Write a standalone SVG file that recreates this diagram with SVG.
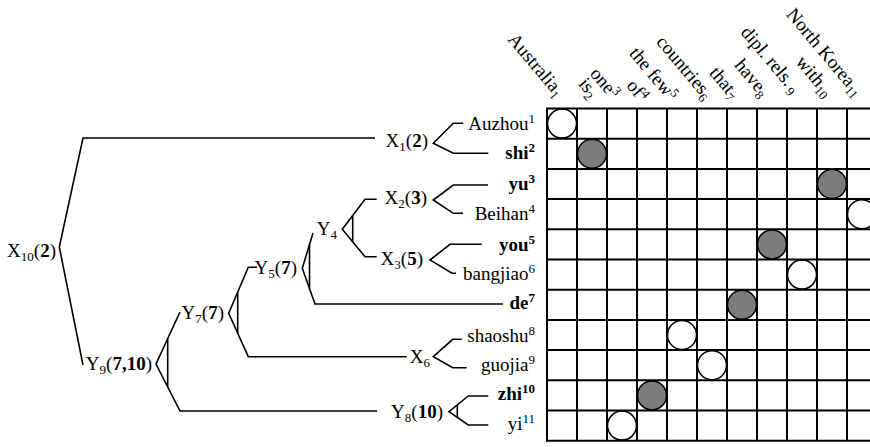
<svg xmlns="http://www.w3.org/2000/svg" width="870" height="447" viewBox="0 0 870 447" font-family="'Liberation Serif', 'DejaVu Serif', serif">
  <style>
    text { font-family: "Liberation Serif", "DejaVu Serif", serif; font-size: 19px; fill: #000; }
    .b { font-weight: bold; }
    .s { font-size: 13px; }
    .edge { fill: none; stroke: #000; stroke-width: 1.6; stroke-linejoin: miter; }
    .grid { fill: none; stroke: #000; stroke-width: 2; }
    .open { fill: #fff; stroke: #000; stroke-width: 1.5; }
    .filled { fill: #7b7b7b; stroke: #000; stroke-width: 1.5; }
  </style>

  <!-- tree edges -->
  <g id="connectors" class="edge">
    <path d="M375,138 H83 L59.3,247 L83,365"/>
    <path d="M180,312 L156,364 L180,411 H377"/>
    <path d="M167.7,338.5 V386.8"/>
    <path d="M257,267.3 H248.3 L228.7,313.3 L248.3,356.7 H406.7"/>
    <path d="M237.7,292.2 V333.2"/>
    <path d="M313,233 L302.3,268.3 L315,304 H503"/>
    <path d="M309.5,244.5 V288.5"/>
    <path d="M376.7,199.3 H365 L342.3,229.3 L365,256.7 H376.7"/>
    <path d="M352.7,215.6 V241.9"/>
    <path d="M463.3,123.3 H453.3 L433.3,143.3 L453.3,153.3 H488.3"/>
    <path d="M488,185 H453.3 L433.3,200 L453.3,213.3 H463"/>
    <path d="M481.7,244.3 H450 L430,260 L452,273.3 H456"/>
    <path d="M461.7,339.3 H452.7 L433.3,356.7 L452.7,367.7 H466.7"/>
    <path d="M488.3,396 H468.3 L449,411.7 L468.3,425 H488.3"/>
    <path d="M457.3,404.9 V417.4"/>
  </g>

  <!-- internal nodes -->
  <g id="X10"><text x="56" y="257" text-anchor="end">X<tspan class="s" dy="4">10</tspan><tspan dy="-4">(</tspan><tspan class="b">2</tspan>)</text></g>
  <g id="Y9"><text x="152" y="370" text-anchor="end">Y<tspan class="s" dy="4">9</tspan><tspan dy="-4">(</tspan><tspan class="b">7,10</tspan>)</text></g>
  <g id="Y7"><text x="224" y="319" text-anchor="end">Y<tspan class="s" dy="4">7</tspan><tspan dy="-4">(</tspan><tspan class="b">7</tspan>)</text></g>
  <g id="Y5"><text x="297" y="274" text-anchor="end">Y<tspan class="s" dy="4">5</tspan><tspan dy="-4">(</tspan><tspan class="b">7</tspan>)</text></g>
  <g id="Y4"><text x="337" y="235" text-anchor="end">Y<tspan class="s" dy="4">4</tspan></text></g>
  <g id="X1"><text x="428" y="146.5" text-anchor="end">X<tspan class="s" dy="4">1</tspan><tspan dy="-4">(</tspan><tspan class="b">2</tspan>)</text></g>
  <g id="X2"><text x="427" y="204" text-anchor="end">X<tspan class="s" dy="4">2</tspan><tspan dy="-4">(</tspan><tspan class="b">3</tspan>)</text></g>
  <g id="X3"><text x="423" y="265" text-anchor="end">X<tspan class="s" dy="4">3</tspan><tspan dy="-4">(</tspan><tspan class="b">5</tspan>)</text></g>
  <g id="X6"><text x="430" y="363" text-anchor="end">X<tspan class="s" dy="4">6</tspan></text></g>
  <g id="Y8"><text x="443" y="418" text-anchor="end">Y<tspan class="s" dy="4">8</tspan><tspan dy="-4">(</tspan><tspan class="b">10</tspan>)</text></g>

  <!-- leaves -->
  <g id="w1"><text x="535" y="130" text-anchor="end">Auzhou<tspan class="s" dy="-7">1</tspan></text></g>
  <g id="w2"><text x="535" y="159" text-anchor="end" class="b">shi<tspan class="s" dy="-7">2</tspan></text></g>
  <g id="w3"><text x="535" y="190" text-anchor="end" class="b">yu<tspan class="s" dy="-7">3</tspan></text></g>
  <g id="w4"><text x="535" y="220" text-anchor="end">Beihan<tspan class="s" dy="-7">4</tspan></text></g>
  <g id="w5"><text x="535" y="251" text-anchor="end" class="b">you<tspan class="s" dy="-7">5</tspan></text></g>
  <g id="w6"><text x="535" y="280" text-anchor="end">bangjiao<tspan class="s" dy="-7">6</tspan></text></g>
  <g id="w7"><text x="535" y="309" text-anchor="end" class="b">de<tspan class="s" dy="-7">7</tspan></text></g>
  <g id="w8"><text x="535" y="342" text-anchor="end">shaoshu<tspan class="s" dy="-7">8</tspan></text></g>
  <g id="w9"><text x="535" y="371" text-anchor="end">guojia<tspan class="s" dy="-7">9</tspan></text></g>
  <g id="w10"><text x="535" y="400" text-anchor="end" class="b">zhi<tspan class="s" dy="-7">10</tspan></text></g>
  <g id="w11"><text x="535" y="430" text-anchor="end">yi<tspan class="s" dy="-7">11</tspan></text></g>

  <!-- English gloss column headers -->
  <g id="headers">
    <text transform="translate(556,98) rotate(50)" text-anchor="end">Australia<tspan class="s" dy="4">1</tspan></text>
    <text transform="translate(590,99) rotate(50)" text-anchor="end">is<tspan class="s" dy="4">2</tspan></text>
    <text transform="translate(611,100) rotate(50)" text-anchor="end">one<tspan class="s" dy="-6">3</tspan></text>
    <text transform="translate(640,103) rotate(50)" text-anchor="end">of<tspan class="s" dy="-6">4</tspan></text>
    <text transform="translate(669,102) rotate(50)" text-anchor="end">the few<tspan class="s" dy="-6">5</tspan></text>
    <text transform="translate(704.5,100.5) rotate(50)" text-anchor="end">countries<tspan class="s" dy="4">6</tspan></text>
    <text transform="translate(731,100) rotate(50)" text-anchor="end">that<tspan class="s" dy="4">7</tspan></text>
    <text transform="translate(761,98) rotate(50)" text-anchor="end">have<tspan class="s" dy="4">8</tspan></text>
    <text transform="translate(792,94.5) rotate(50)" text-anchor="end">dipl. rels.<tspan class="s" dx="3" dy="4">9</tspan></text>
    <text transform="translate(825,98) rotate(50)" text-anchor="end">with<tspan class="s" dy="4">10</tspan></text>
    <text transform="translate(855,97.5) rotate(50)" text-anchor="end">North Korea<tspan class="s" dy="4">11</tspan></text>
  </g>

  <!-- alignment matrix -->
  <g id="matrix">
    <rect x="547" y="108.5" width="330" height="332.2" fill="#fff"/>
    <circle class="open" cx="562" cy="123.6" r="14.5"/>
    <circle class="filled" cx="592" cy="153.8" r="14.5"/>
    <circle class="filled" cx="832" cy="184" r="14.5"/>
    <circle class="open" cx="862" cy="214.2" r="14.5"/>
    <circle class="filled" cx="772" cy="244.4" r="14.5"/>
    <circle class="open" cx="802" cy="274.6" r="14.5"/>
    <circle class="filled" cx="742" cy="304.8" r="14.5"/>
    <circle class="open" cx="682" cy="335" r="14.5"/>
    <circle class="open" cx="712" cy="365.2" r="14.5"/>
    <circle class="filled" cx="652" cy="395.4" r="14.5"/>
    <circle class="open" cx="622" cy="425.6" r="14.5"/>
    <path class="grid" d="M547,108.5 V440.7 M577,108.5 V440.7 M607,108.5 V440.7 M637,108.5 V440.7 M667,108.5 V440.7 M697,108.5 V440.7 M727,108.5 V440.7 M757,108.5 V440.7 M787,108.5 V440.7 M817,108.5 V440.7 M847,108.5 V440.7 M877,108.5 V440.7 M546,108.5 H878 M546,138.7 H878 M546,168.9 H878 M546,199.1 H878 M546,229.3 H878 M546,259.5 H878 M546,289.7 H878 M546,319.9 H878 M546,350.1 H878 M546,380.3 H878 M546,410.5 H878 M546,440.7 H878"/>
  </g>
</svg>
